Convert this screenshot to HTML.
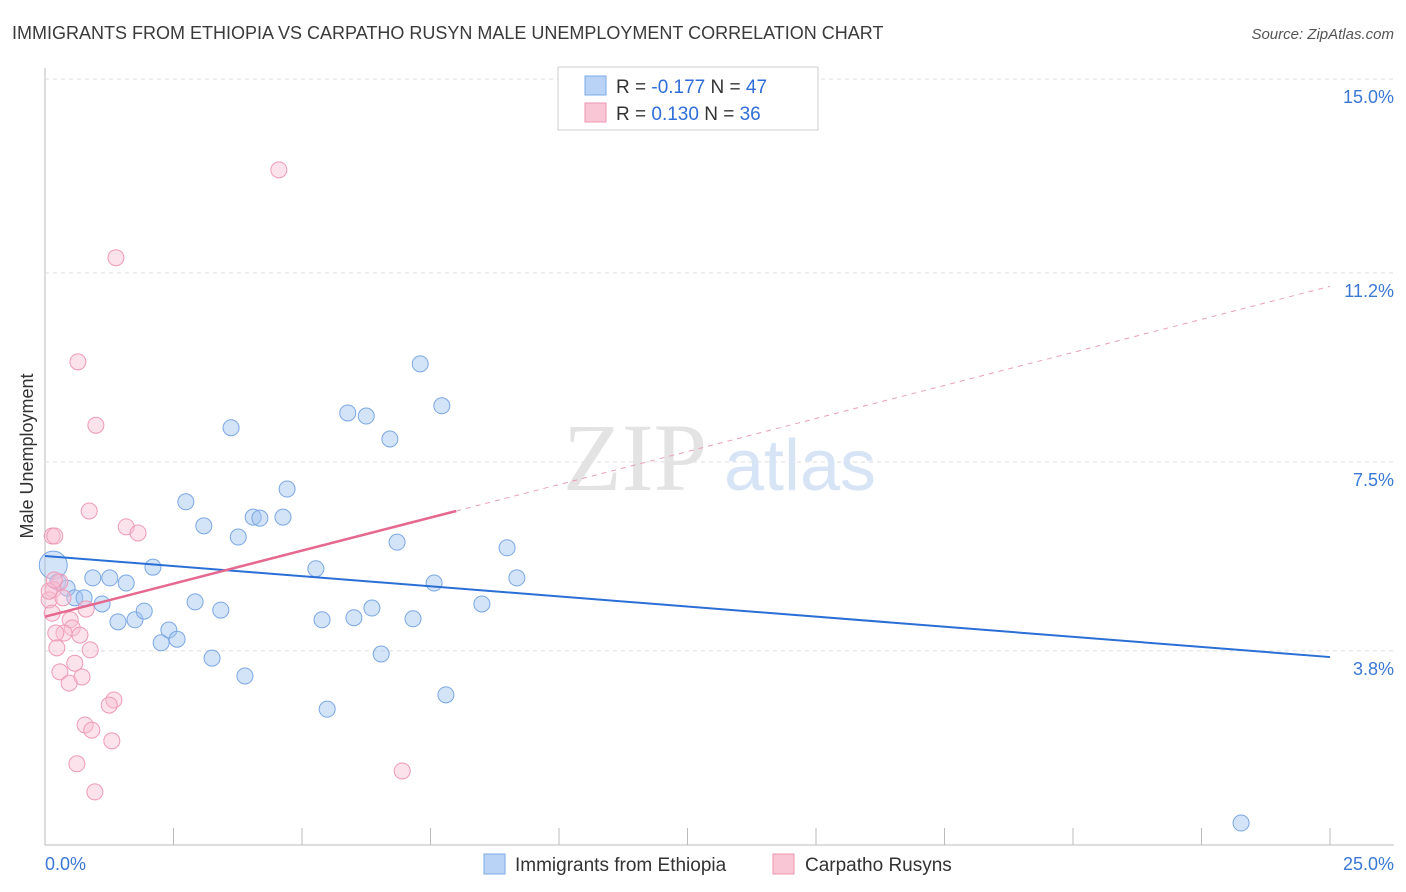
<!DOCTYPE html>
<html><head><meta charset="utf-8"><style>
body{margin:0;background:#fff;font-family:"Liberation Sans",sans-serif;}
svg{display:block}
</style></head><body>
<svg id="chart" width="1406" height="892" viewBox="0 0 1406 892">
<text x="12" y="39" font-size="18" fill="#3a3a3a">IMMIGRANTS FROM ETHIOPIA VS CARPATHO RUSYN MALE UNEMPLOYMENT CORRELATION CHART</text>
<text x="1394" y="39" font-size="15" fill="#555" text-anchor="end" font-style="italic">Source: ZipAtlas.com</text>
<g id="grid"></g>
<text x="635" y="490" font-size="96" fill="#e3e3e3" font-family="Liberation Serif,serif" text-anchor="middle">ZIP</text>
<text x="800" y="490" font-size="72" fill="#d6e4f5" text-anchor="middle">atlas</text>
<text transform="translate(33,456) rotate(-90)" font-size="18" fill="#333" text-anchor="middle">Male Unemployment</text>
<g id="marks"></g>
<g>
<rect x="558" y="67" width="260" height="63" fill="#fff" stroke="#ccc"/>
<rect x="585" y="76" width="21" height="19" fill="#b8d3f5" stroke="#7ba8e6"/>
<rect x="585" y="103" width="21" height="19" fill="#f9c6d6" stroke="#ef95b2"/>
<text x="616" y="93" font-size="19" fill="#333">R = <tspan fill="#2f6ed8">-0.177</tspan>   N = <tspan fill="#2f6ed8">47</tspan></text>
<text x="616" y="120" font-size="19" fill="#333">R =  <tspan fill="#2f6ed8">0.130</tspan>   N = <tspan fill="#2f6ed8">36</tspan></text>
</g>
<g>
<rect x="484" y="854" width="21" height="20" fill="#b8d3f5" stroke="#7ba8e6"/>
<text x="515" y="871" font-size="19" fill="#333">Immigrants from Ethiopia</text>
<rect x="773" y="854" width="21" height="20" fill="#f9c6d6" stroke="#ef95b2"/>
<text x="805" y="871" font-size="19" fill="#333">Carpatho Rusyns</text>
</g>
</svg>
<script>
const xTickLabels=["0.0%","25.0%"];
const yTicks=[3.8,7.5,11.2,15.0];
const yTickLabels=["3.8%","7.5%","11.2%","15.0%"];
const blueX=[0.16,0.25,0.43,0.58,0.76,0.93,1.26,1.11,1.42,1.58,1.75,1.93,2.10,2.26,2.41,2.57,2.74,2.92,3.09,3.25,3.42,3.62,3.76,3.89,4.05,4.18,4.63,4.71,5.27,5.39,5.49,5.89,6.01,6.25,6.36,6.54,6.71,6.85,7.16,7.30,7.57,7.72,7.80,8.50,8.99,9.18,23.27];
const blueY=[5.48,5.15,5.03,4.84,4.84,5.23,5.23,4.72,4.37,5.13,4.41,4.58,5.44,3.96,4.21,4.03,6.72,4.76,6.25,3.66,4.60,8.17,6.03,3.31,6.42,6.40,6.42,6.97,5.41,4.41,2.66,8.46,4.45,8.40,4.64,3.74,7.95,5.93,4.43,9.42,5.13,8.60,2.94,4.72,5.82,5.23,0.43];
const pinkX=[4.55,1.38,0.64,0.99,0.86,1.58,1.81,0.14,0.19,0.29,0.16,0.08,0.35,0.14,0.80,0.49,0.53,0.37,0.68,0.21,0.23,0.88,0.58,0.29,0.72,0.47,1.34,1.25,0.78,0.91,1.30,0.62,0.97,6.95,0.08,0.18];
const pinkY=[13.22,11.50,9.46,8.22,6.54,6.23,6.11,6.05,6.05,5.15,5.00,4.80,4.84,4.54,4.62,4.41,4.25,4.15,4.11,4.15,3.86,3.82,3.56,3.39,3.29,3.17,2.84,2.74,2.35,2.25,2.04,1.59,1.04,1.45,4.97,5.19];
const blueTrend=[5.66,3.68];
const pinkTrend=[4.47,10.94];
const pinkSolidEnd=8.0;
const NS="http://www.w3.org/2000/svg";
const X=v=>45+v*51.4, Y=v=>845-v*51.07;
function mk(tag,attrs,parent){const e=document.createElementNS(NS,tag);for(const k in attrs)e.setAttribute(k,attrs[k]);parent.appendChild(e);return e;}
const grid=document.getElementById('grid'),marks=document.getElementById('marks');
let ax=mk('line',{x1:45,y1:68,x2:45,y2:845,stroke:'#bbb'},grid);


let bx=mk('line',{x1:45,y1:845,x2:1394,y2:845,stroke:'#bbb'},grid);


for(let i=0;i<=10;i++){let t=mk('line',{x1:X(i*2.5),y1:828,x2:X(i*2.5),y2:845,stroke:'#bbb'},grid);

}
yTicks.forEach((v,i)=>{let g=mk('line',{x1:45,y1:Y(v),x2:1394,y2:Y(v),stroke:'#ddd','stroke-dasharray':'4,4'},grid);


let t=mk('text',{x:1394,y:Y(v)+24,'font-size':18,fill:'#3a78d4','text-anchor':'end'},grid);t.textContent=yTickLabels[i];

});
let xl=mk('text',{x:45,y:870,'font-size':18,fill:'#3a78d4'},grid);xl.textContent=xTickLabels[0];


let xr=mk('text',{x:1394,y:870,'font-size':18,fill:'#3a78d4','text-anchor':'end'},grid);xr.textContent=xTickLabels[1];


blueX.forEach((x,i)=>{let c=mk('circle',{cx:X(x),cy:Y(blueY[i]),r:i===0?14:8,fill:'rgba(160,196,240,0.45)',stroke:'#7aa7e3','stroke-width':1},marks);

});
pinkX.forEach((x,i)=>{let c=mk('circle',{cx:X(x),cy:Y(pinkY[i]),r:8,fill:'rgba(248,190,210,0.45)',stroke:'#ee9ab6','stroke-width':1},marks);

});
const pAt=v=>pinkTrend[0]+(pinkTrend[1]-pinkTrend[0])*v/25;
let bl=mk('line',{x1:X(0),y1:Y(blueTrend[0]),x2:X(25),y2:Y(blueTrend[1]),stroke:'#2a6fd6','stroke-width':2},marks);


let pl=mk('line',{x1:X(0),y1:Y(pinkTrend[0]),x2:X(pinkSolidEnd),y2:Y(pAt(pinkSolidEnd)),stroke:'#e5688f','stroke-width':2.5},marks);


let pd=mk('line',{x1:X(pinkSolidEnd),y1:Y(pAt(pinkSolidEnd)),x2:X(25),y2:Y(pinkTrend[1]),stroke:'#eba0b8','stroke-width':1,'stroke-dasharray':'5,5'},marks);


</script>
</body></html>
